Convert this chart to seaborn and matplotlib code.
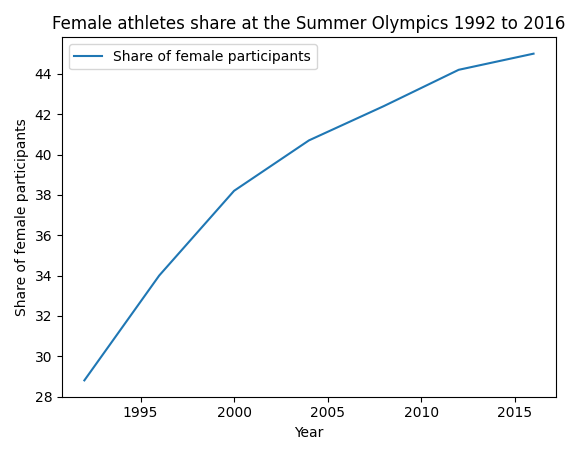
import matplotlib
matplotlib.use("Agg")
import matplotlib.pyplot as plt
import seaborn as sns
import pandas as pd

years = [1992, 1996, 2000, 2004, 2008, 2012, 2016]
female_share = [28.8, 34.0, 38.2, 40.7, 42.4, 44.2, 45.0]

df = pd.DataFrame({"Year": years, "Share of female participants": female_share})

fig, ax = plt.subplots(figsize=(5.71, 4.55), dpi=100)
sns.lineplot(data=df, x="Year", y="Share of female participants", ax=ax,
             label="Share of female participants")
ax.set_title("Female athletes share at the Summer Olympics 1992 to 2016")
ax.legend(loc="upper left")
plt.tight_layout()
plt.savefig("out.png")
